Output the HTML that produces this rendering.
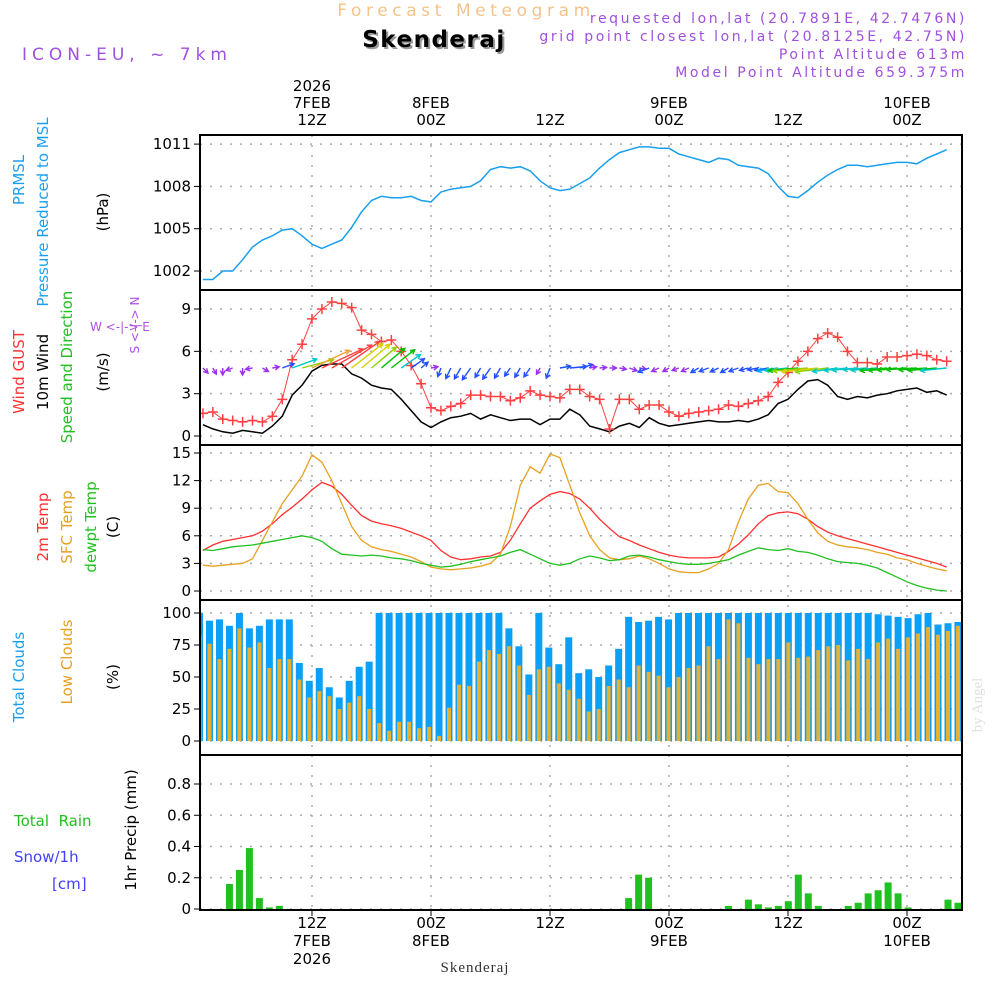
<!DOCTYPE html>
<html><head><meta charset="utf-8">
<style>
html,body{margin:0;padding:0;background:#fff;}
svg{display:block;font-family:"DejaVu Sans","Liberation Sans",sans-serif;}
</style></head>
<body>
<svg id="chart" width="1000" height="1000" viewBox="0 0 1000 1000">
<rect x="0" y="0" width="1000" height="1000" fill="#fff"/>
<text x="466" y="16" text-anchor="middle" font-size="17" fill="#f3c48a" letter-spacing="4.6">Forecast Meteogram</text>
<text x="436" y="49" text-anchor="middle" font-size="23" font-weight="bold" letter-spacing="1.5" fill="#999">Skenderaj</text>
<text x="434" y="47" text-anchor="middle" font-size="23" font-weight="bold" letter-spacing="1.5" fill="#000">Skenderaj</text>
<text x="22" y="60" font-size="17" fill="#a050e0" letter-spacing="5">ICON-EU, ~ 7km</text>
<g font-size="14" fill="#a050e0" text-anchor="end" letter-spacing="2.6">
<text x="967" y="23">requested lon,lat (20.7891E, 42.7476N)</text>
<text x="967" y="41">grid point closest lon,lat (20.8125E, 42.75N)</text>
<text x="967" y="59">Point Altitude 613m</text>
<text x="967" y="77">Model Point Altitude 659.375m</text>
</g>
<g id="grid"></g>
<g id="marks"></g>
<g id="axes"></g>
<g font-size="15">
<text transform="translate(24,180) rotate(-90)" text-anchor="middle" fill="#1a9ff0">PRMSL</text>
<text transform="translate(48,212) rotate(-90)" text-anchor="middle" fill="#1a9ff0">Pressure Reduced to MSL</text>
<text transform="translate(108,212) rotate(-90)" text-anchor="middle" fill="#000">(hPa)</text>
<text transform="translate(24,372) rotate(-90)" text-anchor="middle" fill="#ff3030">Wind GUST</text>
<text transform="translate(48,372) rotate(-90)" text-anchor="middle" fill="#000">10m Wind</text>
<text transform="translate(72,367) rotate(-90)" text-anchor="middle" fill="#20c020">Speed and Direction</text>
<text transform="translate(108,372) rotate(-90)" text-anchor="middle" fill="#000">(m/s)</text>
<text transform="translate(48,527) rotate(-90)" text-anchor="middle" fill="#ff3030">2m Temp</text>
<text transform="translate(72,527) rotate(-90)" text-anchor="middle" fill="#e8a020">SFC Temp</text>
<text transform="translate(96,527) rotate(-90)" text-anchor="middle" fill="#20c020">dewpt Temp</text>
<text transform="translate(118,527) rotate(-90)" text-anchor="middle" fill="#000">(C)</text>
<text transform="translate(24,677) rotate(-90)" text-anchor="middle" fill="#1a9ff0">Total Clouds</text>
<text transform="translate(72,662) rotate(-90)" text-anchor="middle" fill="#e8a020">Low Clouds</text>
<text transform="translate(118,677) rotate(-90)" text-anchor="middle" fill="#000">(%)</text>
<text x="14" y="826" fill="#20c020" xml:space="preserve">Total  Rain</text>
<text x="14" y="862" fill="#4040ff">Snow/1h</text>
<text x="52" y="889" fill="#4040ff">[cm]</text>
<text transform="translate(136,830) rotate(-90)" text-anchor="middle" fill="#000">1hr Precip (mm)</text>
</g>
<g font-size="12" fill="#b050e0">
<text x="90" y="331">W &lt;-|-&gt; E</text>
<text transform="translate(139,325) rotate(-90)" text-anchor="middle">S &lt;-|-&gt; N</text>
</g>
<text transform="translate(982,705) rotate(-90)" text-anchor="middle" font-size="15" font-family="Liberation Serif, serif" fill="#dde3dd">by Angel</text>
<text x="475" y="972" text-anchor="middle" font-size="15" font-family="Liberation Serif, serif" fill="#333" letter-spacing="1">Skenderaj</text>
<script>
const NS='http://www.w3.org/2000/svg';
const pressure=[1001.4,1001.4,1002.0,1002.0,1002.8,1003.7,1004.2,1004.5,1004.9,1005.0,1004.5,1003.9,1003.6,1003.9,1004.2,1005.1,1006.2,1007.0,1007.3,1007.2,1007.2,1007.3,1007.0,1006.9,1007.6,1007.8,1007.9,1008.0,1008.4,1009.2,1009.4,1009.3,1009.4,1009.1,1008.4,1007.9,1007.7,1007.8,1008.2,1008.6,1009.3,1009.9,1010.4,1010.6,1010.8,1010.8,1010.7,1010.7,1010.3,1010.1,1009.9,1009.7,1010.0,1009.9,1009.5,1009.4,1009.3,1008.9,1008.0,1007.3,1007.2,1007.7,1008.3,1008.8,1009.2,1009.5,1009.5,1009.4,1009.5,1009.6,1009.7,1009.7,1009.6,1010.0,1010.3,1010.6];
const gust=[1.6,1.7,1.2,1.1,1.0,1.1,1.0,1.4,2.6,5.4,6.5,8.3,9.0,9.5,9.4,9.1,7.5,7.2,6.7,6.8,6.0,5.0,3.7,2.0,1.8,2.1,2.3,2.9,2.9,2.8,2.8,2.5,2.7,3.2,2.9,2.8,2.7,3.3,3.3,2.8,2.6,0.5,2.6,2.6,1.9,2.2,2.2,1.7,1.4,1.6,1.7,1.8,1.9,2.2,2.1,2.3,2.5,2.8,3.8,4.5,5.3,6.0,6.9,7.3,7.0,6.0,5.2,5.2,5.1,5.6,5.6,5.7,5.8,5.7,5.4,5.3];
const windSpeed=[0.8,0.5,0.3,0.2,0.4,0.3,0.2,0.7,1.4,2.9,3.6,4.6,5.0,5.1,5.1,4.4,4.1,3.6,3.4,3.3,2.6,1.8,1.0,0.6,1.0,1.3,1.4,1.6,1.2,1.5,1.3,1.1,1.2,1.2,0.8,1.2,1.2,1.9,1.5,0.7,0.5,0.3,0.7,0.9,0.6,1.3,0.9,0.7,0.8,0.9,1.0,1.1,1.0,1.0,1.1,1.0,1.2,1.5,2.3,2.6,3.3,3.9,4.0,3.6,2.8,2.6,2.8,2.7,2.9,3.0,3.2,3.3,3.4,3.1,3.2,2.9];
const windDir=[315,300,270,200,270,190,330,10,20,20,15,25,25,30,35,38,40,40,40,38,35,35,40,10,250,245,240,235,240,235,240,235,240,235,240,250,10,5,15,10,5,0,350,340,350,200,205,210,200,205,210,200,205,210,200,195,190,190,188,186,185,185,186,187,188,186,185,184,185,186,185,184,183,184,185,186];
const temp2m=[4.4,5.0,5.4,5.6,5.8,6.0,6.5,7.3,8.3,9.1,10.0,11.0,11.8,11.4,10.5,9.3,8.2,7.6,7.3,7.1,6.8,6.4,6.0,5.5,4.4,3.7,3.4,3.5,3.7,3.8,4.2,5.5,7.3,9.0,9.8,10.5,10.8,10.6,10.0,9.0,7.8,6.8,5.9,5.5,5.0,4.6,4.2,3.9,3.7,3.6,3.6,3.6,3.7,4.3,5.1,6.1,7.3,8.2,8.5,8.6,8.4,7.8,7.0,6.4,6.0,5.7,5.4,5.1,4.8,4.5,4.2,3.9,3.6,3.3,3.0,2.6];
const sfcTemp=[2.8,2.7,2.8,2.9,3.0,3.5,5.5,7.5,9.5,11.0,12.5,14.8,14.0,12.0,9.5,7.0,5.5,4.8,4.5,4.3,4.0,3.7,3.2,2.6,2.4,2.3,2.4,2.5,2.7,3.0,4.0,7.0,11.5,13.5,12.8,14.9,14.5,11.5,8.5,6.0,4.5,3.6,3.4,3.5,3.8,3.5,3.0,2.4,2.1,2.0,2.0,2.4,3.0,4.5,7.5,10.0,11.5,11.7,10.8,10.7,9.5,7.8,6.3,5.4,5.0,4.8,4.7,4.5,4.2,4.0,3.6,3.4,3.0,2.7,2.4,2.2];
const dewpt=[4.5,4.4,4.6,4.8,4.9,5.0,5.2,5.4,5.6,5.8,6.0,5.8,5.4,4.6,4.0,3.9,3.8,3.9,3.8,3.6,3.5,3.3,3.0,2.8,2.6,2.7,2.9,3.2,3.4,3.6,3.8,4.2,4.5,4.0,3.5,3.0,2.8,3.0,3.5,3.8,3.6,3.3,3.4,3.8,3.9,3.7,3.4,3.2,3.0,2.9,2.9,3.0,3.2,3.4,3.9,4.3,4.7,4.5,4.4,4.6,4.3,4.2,3.9,3.5,3.2,3.1,3.0,2.8,2.5,2.0,1.5,1.0,0.6,0.3,0.1,0.0];
const totalCloud=[100,94,95,90,100,88,90,95,95,95,61,47,57,42,34,47,58,62,100,100,100,100,100,100,100,100,100,100,100,100,100,88,74,52,100,73,60,81,53,56,50,59,72,97,93,94,97,95,100,100,100,100,100,100,100,100,100,100,100,100,100,100,100,100,100,100,100,100,99,98,97,96,99,100,91,92,93];
const lowCloud=[83,76,64,72,88,73,77,57,64,64,48,34,39,35,25,30,35,25,14,8,15,15,10,11,4,26,44,43,62,71,68,74,59,36,56,58,45,40,33,23,25,43,48,42,59,54,51,42,50,57,59,74,64,95,92,65,60,64,64,77,65,66,71,74,75,63,72,64,77,80,72,81,84,89,83,86,90];
const precip=[0,0,0,0.16,0.25,0.39,0.07,0.01,0.02,0,0,0,0,0,0,0,0,0,0,0,0,0,0,0,0,0,0,0,0,0,0,0,0,0,0,0,0,0,0,0,0,0,0,0.07,0.22,0.20,0,0,0,0,0,0,0,0.02,0,0.06,0.03,0.01,0.02,0.05,0.22,0.10,0.02,0,0,0.02,0.04,0.10,0.12,0.17,0.10,0.01,0,0,0,0.06,0.04];
const pTicks=[1002,1005,1008,1011];
const wTicks=[0,3,6,9];
const tTicks=[0,3,6,9,12,15];
const cTicks=[0,25,50,75,100];
const rTicks=[0,0.2,0.4,0.6,0.8];
const timeTicks=[12,24,36,48,60,72];
const topLabels=[['2026','7FEB','12Z'],['','8FEB','00Z'],['','','12Z'],['','9FEB','00Z'],['','','12Z'],['','10FEB','00Z']];
const botLabels=[['12Z','7FEB','2026'],['00Z','8FEB',''],['12Z','',''],['00Z','9FEB',''],['12Z','',''],['00Z','10FEB','']];
const X0=200,X1=962;
function xs(h){return 312+(h-12)*119/12;}
function xh(i){return xs(i+1);}
function xb(i){return 196+i*9.98;}
const yP=v=>271-(v-1002)*14.1;
const yW=v=>436-v*14.11;
const yT=v=>591-v*9.2;
const yC=v=>741-v*1.28;
const yR=v=>909-v*156.25;
const panels=[{t:135,b:290,y:yP,ticks:pTicks,fmt:v=>v},{t:290,b:445,y:yW,ticks:wTicks,fmt:v=>v},{t:445,b:600,y:yT,ticks:tTicks,fmt:v=>v},{t:600,b:755,y:yC,ticks:cTicks,fmt:v=>v},{t:755,b:910,y:yR,ticks:rTicks,fmt:v=>v===0?'0':v.toFixed(1)}];
function el(tag,attrs,parent){const e=document.createElementNS(NS,tag);for(const k in attrs)e.setAttribute(k,attrs[k]);parent.appendChild(e);return e;}
const grid=document.getElementById('grid'),marks=document.getElementById('marks'),axes=document.getElementById('axes');
const defs=el('defs',{},marks);
const cp=el('clipPath',{id:'plotclip'},defs);
el('rect',{x:X0,y:135,width:X1-X0,height:775},cp);
timeTicks.forEach(h=>{
  const g=el('line',{x1:xs(h),x2:xs(h),y1:135,y2:910,stroke:'#aaa','stroke-width':1.5,'stroke-dasharray':'2,8'},grid);
  
  
});
panels.forEach((p,pi)=>{
  p.ticks.forEach(v=>{
    const y=p.y(v);
    const g=el('line',{x1:X0,x2:X1,y1:y,y2:y,stroke:'#aaa','stroke-width':1.5,'stroke-dasharray':'2,8'},grid);
    
    
    const tk=el('line',{x1:X0-6,x2:X0,y1:y,y2:y,stroke:'#000','stroke-width':1},axes);
    
    
    const t=el('text',{x:191,y:y+5,'text-anchor':'end','font-size':15,fill:'#000'},axes);
    t.textContent=p.fmt(v);
    
    
  });
});
const mg=el('g',{'clip-path':'url(#plotclip)'},marks);
totalCloud.forEach((v,i)=>{
  const r=el('rect',{x:xb(i),y:yC(v),width:7,height:yC(0)-yC(v),fill:'#0aa0f8'},mg);
  
  
});
lowCloud.forEach((v,i)=>{
  const r=el('rect',{x:xb(i)+1.5,y:yC(v),width:4,height:yC(0)-yC(v),fill:'#e8b030'},mg);
  
  
});
precip.forEach((v,i)=>{
  if(v<=0)return;
  const r=el('rect',{x:xb(i),y:yR(v),width:7,height:yR(0)-yR(v),fill:'#20c020'},mg);
  
  
});
function line(arr,yf,color,name,w){
  const pts=arr.map((v,i)=>xh(i).toFixed(1)+','+yf(v).toFixed(1)).join(' ');
  const l=el('polyline',{points:pts,fill:'none',stroke:color,'stroke-width':w||1.3},mg);
  
  
}
line(pressure,yP,'#1a9ff0','pressure-line',1.5);
line(temp2m,yT,'#ff3030','temp-2m-line');
line(sfcTemp,yT,'#e8a020','sfc-temp-line');
line(dewpt,yT,'#20c020','dewpoint-line');
line(windSpeed,yW,'#000','wind-speed-line',1.5);
line(gust,yW,'#ff4040','gust-line',1);
gust.forEach((v,i)=>{
  const x=xh(i),y=yW(v);
  const m=el('path',{d:`M${x-5},${y}H${x+5}M${x},${y-5}V${y+5}`,stroke:'#ff4040','stroke-width':1.5},mg);
  
  
});
function windColor(s){
  if(s<1)return '#9b30f0';
  if(s<2)return '#2050ff';
  if(s<2.5)return '#00a8ff';
  if(s<3)return '#00c8c8';
  if(s<3.5)return '#00c000';
  if(s<4)return '#90d000';
  if(s<4.5)return '#d8d000';
  if(s<5)return '#f0a030';
  return '#ff4040';
}
windSpeed.forEach((s,i)=>{
  const a=windDir[i]*Math.PI/180,L=Math.max(7,s*9);
  const x=xh(i),y=368;
  const x2=x+L*Math.cos(a),y2=y-L*Math.sin(a);
  const ha=Math.atan2(y2-y,x2-x);
  const h1x=x2-5*Math.cos(ha-0.5),h1y=y2-5*Math.sin(ha-0.5);
  const h2x=x2-5*Math.cos(ha+0.5),h2y=y2-5*Math.sin(ha+0.5);
  const ar=el('path',{d:`M${x},${y}L${x2},${y2}M${h1x},${h1y}L${x2},${y2}L${h2x},${h2y}`,fill:'none',stroke:windColor(s),'stroke-width':1.4},mg);
  
  
});
panels.forEach(p=>{
  const f=el('rect',{x:X0,y:p.t,width:X1-X0,height:p.b-p.t,fill:'none',stroke:'#000','stroke-width':2},axes);
  
  
});
timeTicks.forEach((h,k)=>{
  const x=xs(h);
  [0,1,2].forEach(j=>{
    const s=topLabels[k][j];
    if(s){
      const t=el('text',{x:x,y:91+j*17,'text-anchor':'middle','font-size':15,fill:'#000'},axes);
      t.textContent=s;
      
      
    }
    const b=botLabels[k][j];
    if(b){
      const t=el('text',{x:x,y:928+j*18,'text-anchor':'middle','font-size':15,fill:'#000'},axes);
      t.textContent=b;
      
      
    }
  });
  const tk=el('line',{x1:x,x2:x,y1:910,y2:916,stroke:'#000'},axes);
  
  
});
</script>
</svg>
</body></html>
